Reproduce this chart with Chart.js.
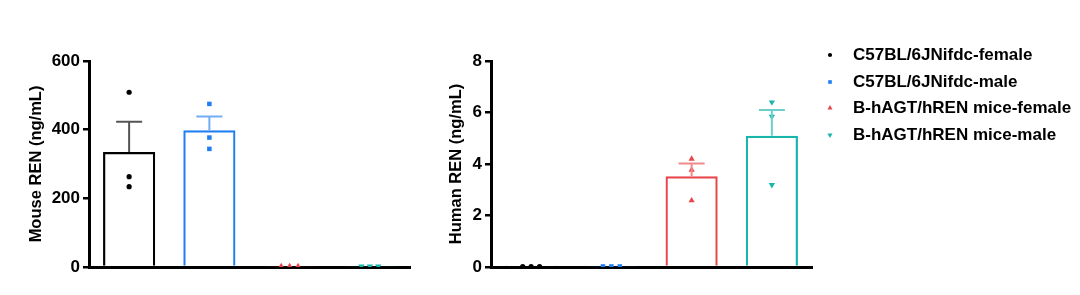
<!DOCTYPE html>
<html><head><meta charset="utf-8">
<script src="https://cdn.jsdelivr.net/npm/chart.js@4/dist/chart.umd.min.js"></script>
<style>
html,body{margin:0;padding:0;background:#fff;width:1080px;height:295px;overflow:hidden;font-family:"Liberation Sans",Arial,sans-serif;}
.cv{position:absolute;top:0;width:430px;height:295px;}
#legend{position:absolute;left:822px;top:42px;font-weight:bold;font-size:17px;color:#000;}
#legend .row{height:26.5px;display:flex;align-items:center;}
#legend canvas{width:16px;height:16px;margin-right:15px;}
</style></head>
<body>
<div class="cv" style="left:0"><canvas id="c1" width="430" height="295"></canvas></div>
<div class="cv" style="left:402px"><canvas id="c2" width="430" height="295"></canvas></div>
<div id="legend"></div>
<script>
// ---- data ----
const groups = ["C57BL/6JNifdc-female","C57BL/6JNifdc-male","B-hAGT/hREN mice-female","B-hAGT/hREN mice-male"];
const mouseMeans = [335, 398, 2.5, 2.5];
const mouseSEM = [88, 40, 0.5, 0.5];
const mousePoints = [[509, 263, 234],[475, 377, 344],[2, 2, 2],[2, 2, 2]];
const humanMeans = [0.03, 0.03, 3.52, 5.10];
const humanSEM = [0.005, 0.005, 0.50, 1.00];
const humanPoints = [[0.02, 0.02, 0.02],[0.02, 0.02, 0.02],[4.20, 3.77, 2.58],[6.40, 5.84, 3.19]];
const mouseTicks = [0, 200, 400, 600];
const humanTicks = [0, 2, 4, 6, 8];
const mouseTitle = "Mouse REN (ng/mL)";
const humanTitle = "Human REN (ng/mL)";
// horizontal spread (in category widths) for points that overlap
const mouseSpread = [[0,0,0],[0,0,0],[-0.105,0,0.105],[-0.105,0,0.105]];
const humanSpread = [[-0.105,0,0.105],[-0.105,0,0.105],[0,0,0],[0,0,0]];

const colors = ["#000000","#1f7ef2","#e8464b","#17b5ab"];
const errColors = ["#555555","#72acf5","#f08a8d","#6cd0ca"];
const pStyles = ["circle","rect","triangle","triangle"];
const pRot = [0,0,0,180];
const pRad = [2.6,3.2,3.6,3.6];

const FONT = "'Liberation Sans', Arial, sans-serif";

const errorPlugin = {
  id:'errbars',
  afterDatasetsDraw(chart, args, opts){
    const meta = chart.getDatasetMeta(0);
    const ys = chart.scales.y;
    const ctx = chart.ctx;
    ctx.save();
    meta.data.forEach((bar,i)=>{
      const m = opts.means[i], s = opts.sem[i];
      if (s/ (ys.max) < 0.01) return;
      const yTop = ys.getPixelForValue(m+s);
      const yBar = ys.getPixelForValue(m);
      ctx.strokeStyle = errColors[i];
      ctx.lineWidth = 2;
      ctx.beginPath();
      ctx.moveTo(bar.x, yBar); ctx.lineTo(bar.x, yTop);
      ctx.moveTo(bar.x-13, yTop); ctx.lineTo(bar.x+13, yTop);
      ctx.stroke();
    });
    ctx.restore();
  }
};

function makeChart(id, means, sem, points, spread, ticks, title, titleGap){
  const datasets = [{
    type:'bar', data: means, backgroundColor:'rgba(255,255,255,0)', borderColor: colors,
    borderWidth: 2.2, barPercentage: 0.65, categoryPercentage: 1.0, grouped:false, xAxisID:'x', order: 2
  }];
  points.forEach((pts,i)=>{
    datasets.push({
      type:'scatter', xAxisID:'xs', order:1,
      data: pts.map((v,k)=>({x: i + spread[i][k], y: v})),
      pointStyle: pStyles[i], rotation: pRot[i], pointRadius: pRad[i],
      backgroundColor: colors[i], borderColor: colors[i], borderWidth: 0, showLine:false
    });
  });
  return new Chart(document.getElementById(id), {
    data: { labels: groups, datasets },
    plugins:[errorPlugin],
    options: {
      responsive:false, animation:false, devicePixelRatio:1,
      layout:{padding:{top:61,right:20,left:0,bottom:0}},
      plugins:{ legend:{display:false}, tooltip:{enabled:false}, errbars:{means, sem} },
      scales:{
        x:{ type:'category', offset:true, ticks:{display:false},
            grid:{display:false, drawTicks:false}, border:{display:true,color:'#000',width:3},
            afterFit(s){ s.height = 28; } },
        xs:{ type:'linear', display:false, min:-0.5, max:3.5 },
        y:{ min: ticks[0], max: ticks[ticks.length-1],
            afterBuildTicks(s){ s.ticks = ticks.map(v=>({value:v})); },
            ticks:{ color:'#000', font:{family:FONT, size:17, weight:'bold'}, padding:3 },
            grid:{ display:true, drawOnChartArea:false, drawTicks:true, tickLength:6, color:'#000', lineWidth:2.5 },
            border:{ display:true, color:'#000', width:3 },
            title:{ display:true, text:title, color:'#000', font:{family:FONT, size:16.5, weight:'bold'}, padding:{top:titleGap,bottom:0} },
            afterFit(s){ s.width = 89; } }
      }
    }
  });
}
makeChart('c1', mouseMeans, mouseSEM, mousePoints, mouseSpread, mouseTicks, mouseTitle, 27);
makeChart('c2', humanMeans, humanSEM, humanPoints, humanSpread, humanTicks, humanTitle, 44.5);

// legend
const lg = document.getElementById('legend');
groups.forEach((g,i)=>{
  const row = document.createElement('div'); row.className='row';
  const c = document.createElement('canvas'); c.width=16; c.height=16;
  row.appendChild(c);
  const sp = document.createElement('span'); sp.textContent = g; row.appendChild(sp);
  lg.appendChild(row);
  const ctx = c.getContext('2d');
  ctx.fillStyle = colors[i]; ctx.strokeStyle = colors[i];
  Chart.helpers.drawPoint(ctx, {pointStyle:pStyles[i], rotation:pRot[i], radius:pRad[i]*0.8, borderWidth:0}, 8, 8);
});
</script>
</body></html>
